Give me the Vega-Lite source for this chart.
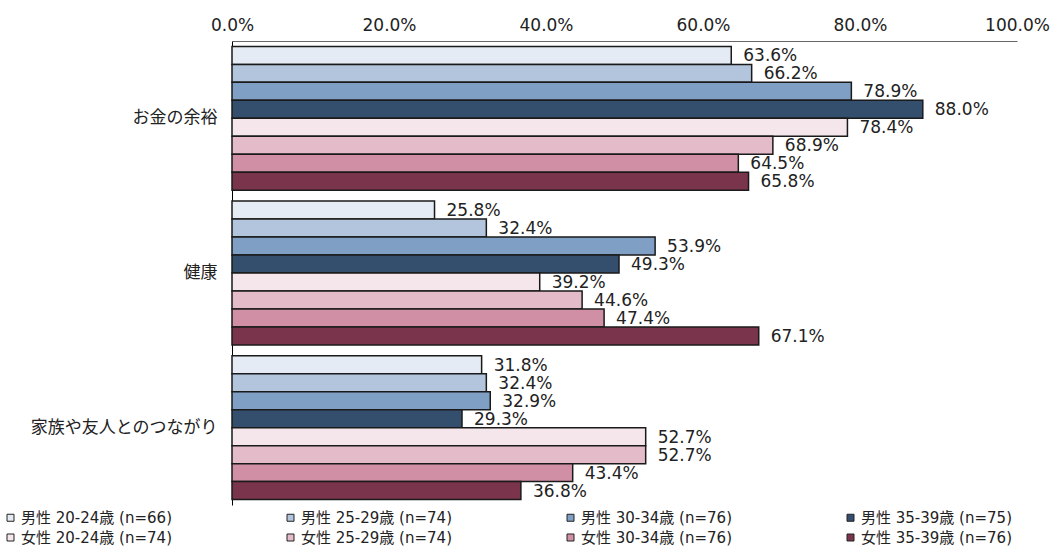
{
  "$schema": "https://vega.github.io/schema/vega-lite/v6.json",
  "width": 785,
  "height": 464,
  "autosize": {"type": "none"},
  "padding": {"left": 232, "top": 41, "right": 44, "bottom": 43},
  "background": "white",
  "config": {
    "view": {"stroke": null},
    "font": "DejaVu Sans, Noto Sans CJK JP"
  },
  "data": {
    "values": [
      {"item": "お金の余裕", "group": "男性 20-24歳 (n=66)", "v": 0.636},
      {"item": "お金の余裕", "group": "男性 25-29歳 (n=74)", "v": 0.662},
      {"item": "お金の余裕", "group": "男性 30-34歳 (n=76)", "v": 0.789},
      {"item": "お金の余裕", "group": "男性 35-39歳 (n=75)", "v": 0.880},
      {"item": "お金の余裕", "group": "女性 20-24歳 (n=74)", "v": 0.784},
      {"item": "お金の余裕", "group": "女性 25-29歳 (n=74)", "v": 0.689},
      {"item": "お金の余裕", "group": "女性 30-34歳 (n=76)", "v": 0.645},
      {"item": "お金の余裕", "group": "女性 35-39歳 (n=76)", "v": 0.658},
      {"item": "健康", "group": "男性 20-24歳 (n=66)", "v": 0.258},
      {"item": "健康", "group": "男性 25-29歳 (n=74)", "v": 0.324},
      {"item": "健康", "group": "男性 30-34歳 (n=76)", "v": 0.539},
      {"item": "健康", "group": "男性 35-39歳 (n=75)", "v": 0.493},
      {"item": "健康", "group": "女性 20-24歳 (n=74)", "v": 0.392},
      {"item": "健康", "group": "女性 25-29歳 (n=74)", "v": 0.446},
      {"item": "健康", "group": "女性 30-34歳 (n=76)", "v": 0.474},
      {"item": "健康", "group": "女性 35-39歳 (n=76)", "v": 0.671},
      {"item": "家族や友人とのつながり", "group": "男性 20-24歳 (n=66)", "v": 0.318},
      {"item": "家族や友人とのつながり", "group": "男性 25-29歳 (n=74)", "v": 0.324},
      {"item": "家族や友人とのつながり", "group": "男性 30-34歳 (n=76)", "v": 0.329},
      {"item": "家族や友人とのつながり", "group": "男性 35-39歳 (n=75)", "v": 0.293},
      {"item": "家族や友人とのつながり", "group": "女性 20-24歳 (n=74)", "v": 0.527},
      {"item": "家族や友人とのつながり", "group": "女性 25-29歳 (n=74)", "v": 0.527},
      {"item": "家族や友人とのつながり", "group": "女性 30-34歳 (n=76)", "v": 0.434},
      {"item": "家族や友人とのつながり", "group": "女性 35-39歳 (n=76)", "v": 0.368}
    ]
  },
  "encoding": {
    "y": {
      "field": "item",
      "type": "nominal",
      "sort": ["お金の余裕", "健康", "家族や友人とのつながり"],
      "scale": {"paddingInner": 0.07, "paddingOuter": 0.035},
      "axis": {
        "title": null,
        "ticks": false,
        "labelFont": "Noto Sans CJK JP",
        "labelFontSize": 17,
        "labelPadding": 15,
        "labelLimit": 260,
        "labelColor": "#222",
        "domainColor": "#000",
        "domainWidth": 1
      }
    },
    "yOffset": {
      "field": "group",
      "type": "nominal",
      "sort": ["男性 20-24歳 (n=66)", "男性 25-29歳 (n=74)", "男性 30-34歳 (n=76)", "男性 35-39歳 (n=75)", "女性 20-24歳 (n=74)", "女性 25-29歳 (n=74)", "女性 30-34歳 (n=76)", "女性 35-39歳 (n=76)"],
      "scale": {"paddingInner": 0, "paddingOuter": 0}
    },
    "x": {
      "field": "v",
      "type": "quantitative",
      "scale": {"domain": [0, 1], "nice": false},
      "axis": {
        "orient": "top",
        "values": [0, 0.2, 0.4, 0.6, 0.8, 1],
        "format": ".1%",
        "grid": false,
        "ticks": false,
        "title": null,
        "labelFontSize": 17,
        "labelColor": "#222",
        "labelFlush": false,
        "labelOverlap": false,
        "labelPadding": 7,
        "domainColor": "#666",
        "domainWidth": 1
      }
    }
  },
  "layer": [
    {
      "mark": {"type": "bar", "stroke": "#1a1a1a", "strokeWidth": 1.5},
      "encoding": {
        "color": {
          "field": "group",
          "type": "nominal",
          "sort": ["男性 20-24歳 (n=66)", "男性 25-29歳 (n=74)", "男性 30-34歳 (n=76)", "男性 35-39歳 (n=75)", "女性 20-24歳 (n=74)", "女性 25-29歳 (n=74)", "女性 30-34歳 (n=76)", "女性 35-39歳 (n=76)"],
          "scale": {
            "domain": ["男性 20-24歳 (n=66)", "男性 25-29歳 (n=74)", "男性 30-34歳 (n=76)", "男性 35-39歳 (n=75)", "女性 20-24歳 (n=74)", "女性 25-29歳 (n=74)", "女性 30-34歳 (n=76)", "女性 35-39歳 (n=76)"],
            "range": ["#e4ebf4", "#b2c5dc", "#7f9fc4", "#344f6e", "#f5e6ec", "#e4bbc9", "#d08fa5", "#7a344b"]
          },
          "legend": {
            "title": null,
            "orient": "none",
            "legendX": -229,
            "legendY": 469,
            "direction": "horizontal",
            "columns": 4,
            "columnPadding": 111,
            "rowPadding": 4,
            "symbolType": "square",
            "symbolSize": 49,
            "symbolStrokeColor": "#222",
            "symbolStrokeWidth": 1,
            "symbolOffset": 0,
            "labelOffset": 3,
            "labelFontSize": 15,
            "labelColor": "#222",
            "labelLimit": 300
          }
        }
      }
    },
    {
      "mark": {"type": "text", "align": "left", "baseline": "middle", "dx": 12, "dy": 1, "fontSize": 17, "color": "#222"},
      "encoding": {
        "text": {"field": "v", "type": "quantitative", "format": ".1%"}
      }
    }
  ]
}
